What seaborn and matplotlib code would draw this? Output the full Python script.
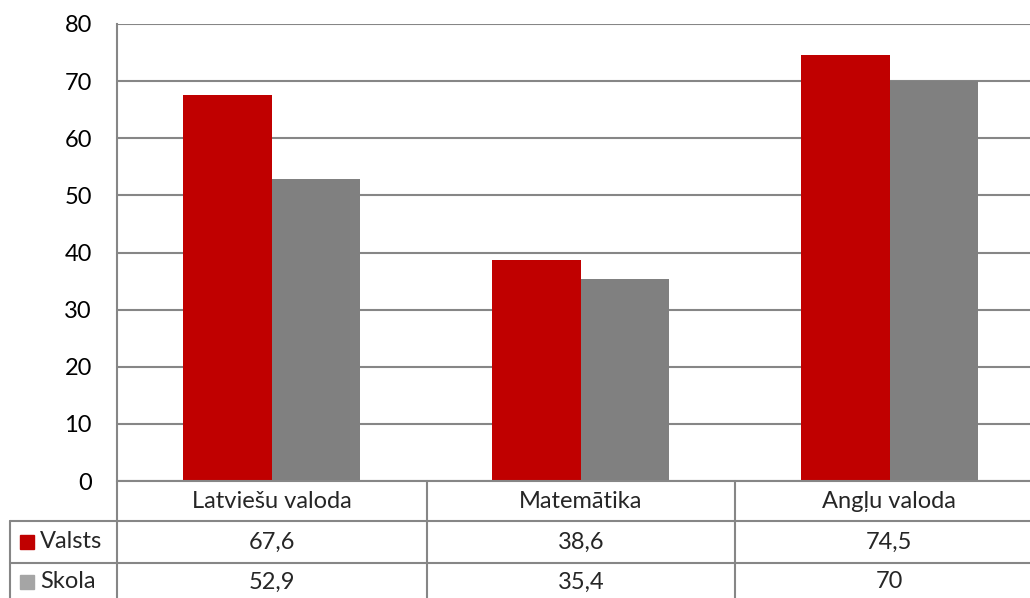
import numpy as np
import pandas as pd
import seaborn as sns
import matplotlib.pyplot as plt
from matplotlib.lines import Line2D
from matplotlib.patches import Rectangle

#Chart data
subjects = ['Latviešu valoda', 'Matemātika', 'Angļu valoda']
series = ['Valsts', 'Skola']
valsts = [67.6, 38.6, 74.5]
skola = [52.9, 35.4, 70]
colors = ['#C00000', '#808080']
marker_colors = ['#C00000', '#A5A5A5']

df = pd.DataFrame({'subject': subjects * 2,
                   'series': [series[0]] * 3 + [series[1]] * 3,
                   'value': valsts + skola})

sns.set_style('white')
plt.rcParams['font.family'] = ['Lato', 'DejaVu Sans']
FS = 17

W, H = 1030, 598
fig = plt.figure(figsize=(W / 100, H / 100), dpi=100)

#Axes placed in pixel units (right edge is cut off by the picture border)
left, right, top, bottom = 117, 1044, 24, 481
ax = fig.add_axes([left / W, 1 - bottom / H, (right - left) / W, (bottom - top) / H])

sns.barplot(data=df, x='subject', y='value', hue='series', palette=colors,
            width=0.576, gap=0, saturation=1, linewidth=0, ax=ax, legend=False)

ax.set_ylim(0, 80)
ax.set_xlim(-0.5, 2.5)
ax.set_yticks(range(0, 81, 10))
ax.set_xticks([])
ax.set_xlabel('')
ax.set_ylabel('')
ax.yaxis.grid(True, color='#868686', linewidth=1.5)
ax.set_axisbelow(True)
ax.tick_params(axis='y', length=0, pad=18, labelsize=FS, labelcolor='black')
for s in ['top', 'right', 'bottom']:
    ax.spines[s].set_visible(False)
ax.spines['left'].set_color('#868686')
ax.spines['left'].set_linewidth(1.5)


#Data table below the chart
def px(x):
    return x / W


def py(y):
    return 1 - y / H


line_kw = dict(color='#868686', linewidth=1.5, transform=fig.transFigure)
row_lines = [481, 521, 563]
col_lines = [left, 427, 735]
fig.add_artist(Line2D([px(left), px(right)], [py(481), py(481)], **line_kw))
for y in row_lines[1:]:
    fig.add_artist(Line2D([px(10), px(right)], [py(y), py(y)], **line_kw))
for x in col_lines:
    fig.add_artist(Line2D([px(x), px(x)], [py(481), py(H + 5)], **line_kw))
fig.add_artist(Line2D([px(10), px(10)], [py(521), py(H + 5)], **line_kw))

cell_centers = [272, 581, 889]
for cx, name in zip(cell_centers, subjects):
    fig.text(px(cx), py(501), name, ha='center', va='center', fontsize=FS)

row_y = [542, 582]
for ry, name, vals, mc in zip(row_y, series, [valsts, skola], marker_colors):
    fig.add_artist(Rectangle((px(20), py(ry + 7)), px(14), 14 / H,
                             color=mc, transform=fig.transFigure))
    fig.text(px(40), py(ry), name, ha='left', va='center', fontsize=FS)
    for cx, v in zip(cell_centers, vals):
        label = ('%g' % v).replace('.', ',')
        fig.text(px(cx), py(ry), label, ha='center', va='center', fontsize=FS)

fig.savefig('out.png', dpi=100)
